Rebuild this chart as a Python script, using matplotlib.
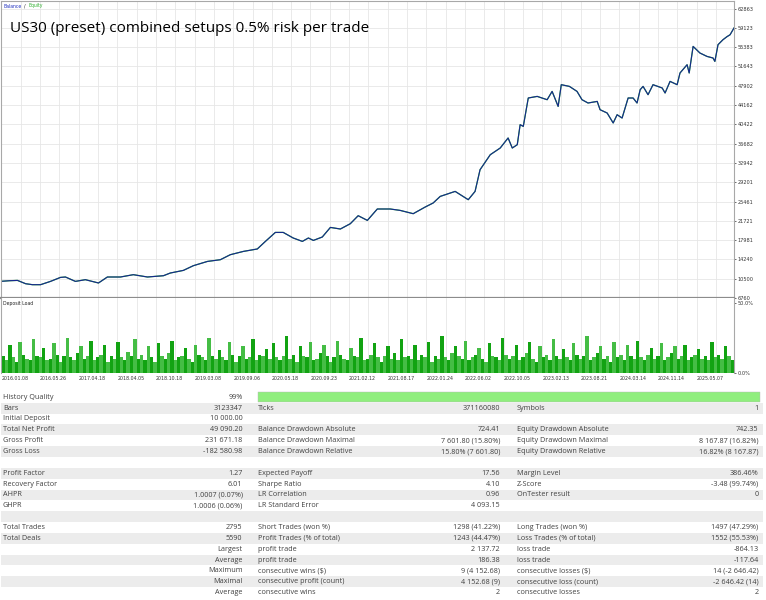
import matplotlib
matplotlib.use("Agg")
import matplotlib.pyplot as plt
from matplotlib.patches import Rectangle
from matplotlib.ticker import MultipleLocator

# --- data ---
trade_no = [0, 31, 61, 92, 118, 149, 187, 225, 244, 282, 320, 370, 404, 454, 503, 557,
            618, 644, 694, 732, 786, 835, 873, 923, 976, 1007, 1045, 1075, 1113, 1148,
            1171, 1190, 1224, 1255, 1293, 1331, 1361, 1396, 1434, 1483, 1521, 1571, 1617,
            1647, 1674, 1731, 1781, 1807, 1826, 1865, 1903, 1933, 1949, 1968, 1979, 1991,
            2010, 2044, 2082, 2101, 2124, 2136, 2167, 2196, 2215, 2238, 2273, 2284, 2311,
            2334, 2349, 2368, 2391, 2410, 2425, 2437, 2448, 2467, 2486, 2521, 2532, 2551,
            2578, 2589, 2616, 2624, 2639, 2665, 2692, 2715, 2722, 2734, 2753, 2768, 2780, 2795]
balance = [10000, 10110, 10170, 9530, 9340, 9340, 9980, 10750, 10830, 9980, 10310, 9670,
           10830, 10830, 11280, 10830, 11080, 11600, 12110, 13020, 13850, 14180, 15150,
           15790, 16260, 17730, 19470, 19470, 18390, 17730, 18390, 17920, 18580, 20440,
           20130, 21160, 22710, 21800, 24010, 24010, 23740, 23100, 24400, 25170, 26450,
           27420, 25810, 27420, 31620, 34530, 35830, 37770, 35830, 36470, 40350, 40020,
           45520, 45830, 45190, 46800, 43890, 48100, 47770, 46800, 45190, 44550, 44860,
           43250, 42610, 40680, 42280, 41640, 45520, 45520, 44550, 47130, 47770, 46160,
           48100, 47460, 46490, 48740, 48100, 50370, 51970, 50370, 55520, 54240, 53580,
           53270, 52610, 55850, 56820, 57400, 57780, 59090]

y_ticks = [6760, 10500, 14240, 17981, 21721, 25461, 29201, 32942, 36682, 40422,
           44162, 47902, 51643, 55383, 59123, 62863]

date_labels = ["2016.01.08", "2016.05.26", "2017.04.18", "2018.04.05", "2018.10.18",
               "2019.03.08", "2019.09.06", "2020.05.18", "2020.09.23", "2021.02.12",
               "2021.08.17", "2022.01.24", "2022.06.02", "2022.10.05", "2023.02.13",
               "2023.08.21", "2024.03.14", "2024.11.14", "2025.05.07"]

deposit_load = [12, 9, 20, 11, 8, 22, 13, 10, 9, 24, 12, 11, 18, 9, 10, 21, 13, 8, 12, 25,
                11, 9, 14, 19, 10, 12, 23, 9, 11, 13, 20, 8, 12, 10, 22, 11, 9, 15, 12, 24,
                10, 13, 9, 19, 11, 8, 21, 12, 10, 14, 23, 9, 11, 12, 18, 10, 8, 20, 13, 11,
                9, 25, 12, 10, 16, 11, 9, 22, 13, 8, 12, 19, 10, 11, 24, 9, 13, 12, 17, 10,
                21, 11, 9, 12, 26, 10, 13, 8, 19, 12, 11, 22, 9, 10, 14, 20, 12, 8, 11, 23,
                13, 10, 9, 18, 12, 11, 25, 9, 10, 13, 21, 11, 8, 12, 19, 10, 14, 9, 24, 11,
                12, 10, 20, 9, 13, 11, 22, 8, 12, 10, 26, 11, 9, 14, 19, 12, 10, 23, 9, 11,
                13, 18, 10, 8, 21, 12, 11, 9, 25, 13, 10, 12, 20, 9, 11, 14, 22, 10, 8, 19,
                11, 13, 9, 24, 12, 10, 17, 11, 9, 21, 13, 10, 12, 26, 9, 11, 14, 19, 10, 12,
                8, 22, 11, 13, 9, 20, 12, 10, 23, 11, 9, 13, 18, 10, 12, 21, 9, 11, 14, 19,
                10, 12, 20, 9, 11, 13, 17, 10, 12, 9, 22, 11, 13, 10, 19, 12, 9]

history_quality = 99

col1_labels = ["History Quality", "Bars", "Initial Deposit", "Total Net Profit", "Gross Profit",
               "Gross Loss", "", "Profit Factor", "Recovery Factor", "AHPR", "GHPR", "",
               "Total Trades", "Total Deals", "", "", "", "", ""]
col1_values = ["99%", "3123347", "10 000.00", "49 090.20", "231 671.18", "-182 580.98", "",
               "1.27", "6.01", "1.0007 (0.07%)", "1.0006 (0.06%)", "", "2795", "5590",
               "Largest", "Average", "Maximum", "Maximal", "Average"]
col2_labels = ["", "Ticks", "", "Balance Drawdown Absolute", "Balance Drawdown Maximal",
               "Balance Drawdown Relative", "", "Expected Payoff", "Sharpe Ratio",
               "LR Correlation", "LR Standard Error", "", "Short Trades (won %)",
               "Profit Trades (% of total)", "profit trade", "profit trade",
               "consecutive wins ($)", "consecutive profit (count)", "consecutive wins"]
col2_values = ["", "371160080", "", "724.41", "7 601.80 (15.80%)", "15.80% (7 601.80)", "",
               "17.56", "4.10", "0.96", "4 093.15", "", "1298 (41.22%)", "1243 (44.47%)",
               "2 137.72", "186.38", "9 (4 152.68)", "4 152.68 (9)", "2"]
col3_labels = ["", "Symbols", "", "Equity Drawdown Absolute", "Equity Drawdown Maximal",
               "Equity Drawdown Relative", "", "Margin Level", "Z-Score", "OnTester result",
               "", "", "Long Trades (won %)", "Loss Trades (% of total)", "loss trade",
               "loss trade", "consecutive losses ($)", "consecutive loss (count)",
               "consecutive losses"]
col3_values = ["", "1", "", "742.35", "8 167.87 (16.82%)", "16.82% (8 167.87)", "",
               "386.46%", "-3.48 (99.74%)", "0", "", "", "1497 (47.29%)", "1552 (55.53%)",
               "-864.13", "-117.64", "14 (-2 646.42)", "-2 646.42 (14)", "2"]

# --- figure, laid out in pixels ---
W, H = 766, 600
fig = plt.figure(figsize=(W / 100, H / 100), dpi=100)
fig.patch.set_facecolor("white")


def px_axes(x0, y0, x1, y1):
    return fig.add_axes([x0 / W, 1 - y1 / H, (x1 - x0) / W, (y1 - y0) / H])


def ftext(x, y, s, **kw):
    return fig.text(x / W, 1 - y / H, s, **kw)


frame_col = "#a8a8a8"
x_max = trade_no[-1]
grid_step = x_max * 19.31 / 732.5

# balance / equity chart
ax = px_axes(1.5, 1, 734, 298)
ax.plot(trade_no, balance, color="#3cb83c", lw=0.9)
ax.plot(trade_no, balance, color="#16268f", lw=0.8)
ax.set_xlim(0, x_max)
ax.set_ylim(6760, 64319)
ax.xaxis.set_major_locator(MultipleLocator(grid_step))
ax.set_yticks(y_ticks)
ax.set_yticklabels([str(v) for v in y_ticks])
ax.grid(color="#e6e6e6", lw=0.6)
ax.tick_params(axis="x", length=0, labelbottom=False)
ax.yaxis.tick_right()
ax.tick_params(axis="y", length=1.5, width=0.5, pad=1, labelsize=3.6,
               colors="#333333")
for s in ax.spines.values():
    s.set_color(frame_col)
    s.set_linewidth(0.8)
ax.spines["bottom"].set_color("#8c8c8c")
ax.spines["bottom"].set_linewidth(1.6)

# deposit load panel
ax2 = px_axes(1.5, 298, 734, 372.7)
n = len(deposit_load)
step = x_max / n
shades = ["#12a312" if i % 2 == 0 else "#45bd45" for i in range(n)]
ax2.bar([(i + 0.5) * step for i in range(n)], deposit_load, width=step,
        color=shades, lw=0)
ax2.set_xlim(0, x_max)
ax2.set_ylim(0, 53.6)
ax2.set_xticks([i * 2 * grid_step for i in range(len(date_labels))])
ax2.set_xticklabels(date_labels, ha="left", fontsize=3.45, color="#333333")
ax2.xaxis.set_minor_locator(MultipleLocator(grid_step))
ax2.grid(axis="x", which="both", color="#e6e6e6", lw=0.6)
ax2.set_axisbelow(True)
ax2.tick_params(axis="x", which="both", length=0, pad=2.2)
ax2.yaxis.tick_right()
ax2.set_yticks([0, 50])
ax2.set_yticklabels(["0.0%", "50.0%"])
ax2.tick_params(axis="y", length=1.5, width=0.5, pad=1, labelsize=3.6,
                colors="#333333")
for s in ax2.spines.values():
    s.set_color(frame_col)
    s.set_linewidth(0.8)
ax2.spines["top"].set_visible(False)
ax2.spines["bottom"].set_visible(False)
ax2.text(0.002, 0.92, "Deposit Load", transform=ax2.transAxes, fontsize=3.3,
         va="center", color="#222222")

# captions
ftext(3.3, 6, "Balance", fontsize=3.3, color="#2030c0", va="center")
ftext(23.6, 6, "/", fontsize=3.3, color="#222222", va="center")
ftext(28.3, 6, "Equity", fontsize=3.3, color="#30b030", va="center")
ftext(10, 28, "US30 (preset) combined setups 0.5% risk per trade", fontsize=11,
      family="Open Sans", va="center", color="black")

# report table
row_h = 10.85
row0 = 397.3
txt = dict(fontsize=5.2, family="Open Sans", color="#404040", va="center")
for i in range(len(col1_labels)):
    yc = row0 + i * row_h
    if i % 2 == 1:
        fig.patches.append(Rectangle((1 / W, 1 - (yc + row_h / 2) / H), 762 / W, row_h / H,
                                     transform=fig.transFigure, color="#ececec", lw=0))
    ftext(3, yc, col1_labels[i], ha="left", **txt)
    ftext(242.5, yc, col1_values[i], ha="right", **txt)
    ftext(258, yc, col2_labels[i], ha="left", **txt)
    ftext(500, yc, col2_values[i], ha="right", **txt)
    ftext(517, yc, col3_labels[i], ha="left", **txt)
    ftext(758.5, yc, col3_values[i], ha="right", **txt)

bar_full = 507
fig.patches.append(Rectangle((258 / W, 1 - 401.8 / H), bar_full * history_quality / 100 / W,
                             9.5 / H, transform=fig.transFigure, facecolor="#90ee7e",
                             edgecolor="#b8b8b8", lw=0.3))

fig.savefig("out.png", dpi=100)
